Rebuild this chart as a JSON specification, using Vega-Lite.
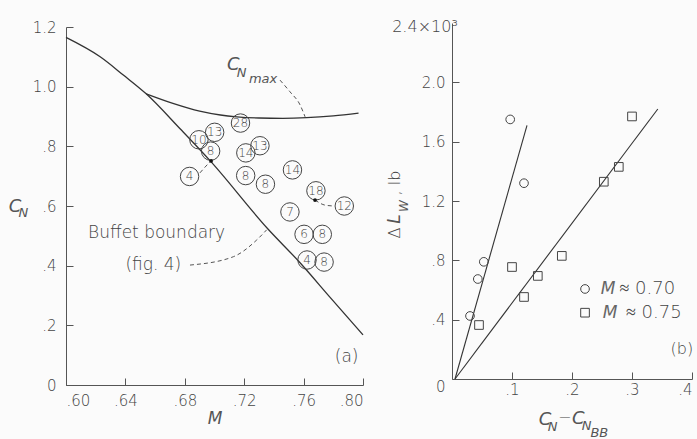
{
  "$schema": "https://vega.github.io/schema/vega-lite/v6.json",
  "autosize": {"type": "none"},
  "padding": {"left": 66, "top": 23, "right": 0, "bottom": 54},
  "width": 631,
  "height": 362,
  "background": "#fbfbfb",
  "config": {
    "view": {"stroke": null},
    "font": "DejaVu Sans",
    "axis": {"grid": false, "domainColor": "#555", "tickColor": "#555", "labelColor": "#444", "labelFont": "DejaVu Sans", "labelFontSize": 15, "labelFontWeight": 200, "tickSize": -7, "domainWidth": 1, "tickWidth": 1, "titleFont": "DejaVu Sans", "titleColor": "#555", "titleFontWeight": 200, "titleFontSize": 17},
    "text": {"color": "#444", "font": "DejaVu Sans", "fontWeight": 200, "baseline": "middle"}
  },
  "datasets": {
    "bound": [
      {"M": 0.600, "CN": 1.165}, {"M": 0.623, "CN": 1.100}, {"M": 0.6386, "CN": 1.039}, {"M": 0.654, "CN": 0.976},
      {"M": 0.677, "CN": 0.858}, {"M": 0.697, "CN": 0.752}, {"M": 0.736, "CN": 0.523}, {"M": 0.757, "CN": 0.413},
      {"M": 0.778, "CN": 0.293}, {"M": 0.800, "CN": 0.168}
    ],
    "cnmax": [
      {"M": 0.654, "CN": 0.976}, {"M": 0.672, "CN": 0.944}, {"M": 0.690, "CN": 0.918}, {"M": 0.704, "CN": 0.905},
      {"M": 0.715, "CN": 0.899}, {"M": 0.730, "CN": 0.895}, {"M": 0.746, "CN": 0.894}, {"M": 0.762, "CN": 0.896},
      {"M": 0.780, "CN": 0.902}, {"M": 0.797, "CN": 0.911}
    ],
    "leaders": [
      {"id": "max", "M": 0.7441, "CN": 1.022}, {"id": "max", "M": 0.7508, "CN": 0.983}, {"id": "max", "M": 0.7576, "CN": 0.939}, {"id": "max", "M": 0.761, "CN": 0.899},
      {"id": "buf", "M": 0.6835, "CN": 0.402}, {"id": "buf", "M": 0.7127, "CN": 0.43}, {"id": "buf", "M": 0.7284, "CN": 0.486}, {"id": "buf", "M": 0.7351, "CN": 0.52},
      {"id": "four", "M": 0.6902, "CN": 0.711}, {"id": "four", "M": 0.6943, "CN": 0.734}, {"id": "four", "M": 0.6976, "CN": 0.751},
      {"id": "ei", "M": 0.7677, "CN": 0.62}, {"id": "ei", "M": 0.7744, "CN": 0.603}, {"id": "ei", "M": 0.7805, "CN": 0.6}
    ],
    "runs": [
      {"n": "28", "M": 0.7175, "CN": 0.878}, {"n": "10", "M": 0.6895, "CN": 0.822}, {"n": "13", "M": 0.7001, "CN": 0.847},
      {"n": "8", "M": 0.6974, "CN": 0.784}, {"n": "4", "M": 0.6832, "CN": 0.699}, {"n": "14", "M": 0.7211, "CN": 0.778},
      {"n": "13", "M": 0.7306, "CN": 0.802}, {"n": "8", "M": 0.721, "CN": 0.702}, {"n": "8", "M": 0.7343, "CN": 0.673},
      {"n": "14", "M": 0.7525, "CN": 0.721}, {"n": "18", "M": 0.7683, "CN": 0.651}, {"n": "12", "M": 0.7874, "CN": 0.6},
      {"n": "7", "M": 0.7508, "CN": 0.58}, {"n": "6", "M": 0.7603, "CN": 0.505}, {"n": "8", "M": 0.7726, "CN": 0.505},
      {"n": "4", "M": 0.7623, "CN": 0.419}, {"n": "8", "M": 0.7738, "CN": 0.412}
    ],
    "dots": [{"M": 0.6977, "CN": 0.751}, {"M": 0.7677, "CN": 0.62}],
    "aReg": [{"t": "Buffet boundary", "M": 0.661, "CN": 0.508}, {"t": "(fig. 4)", "M": 0.6588, "CN": 0.402}, {"t": "(a)", "M": 0.789, "CN": 0.095}],
    "aBig": [{"t": "C", "M": 0.7127, "CN": 1.073}, {"t": "C", "M": 0.5657, "CN": 0.598}],
    "aSub": [{"t": "N", "M": 0.7183, "CN": 1.047}, {"t": "max", "M": 0.7327, "CN": 1.025}, {"t": "N", "M": 0.5713, "CN": 0.576}],
    "pts": [
      {"series": "0.70", "x": 0.030, "y": 0.425}, {"series": "0.70", "x": 0.043, "y": 0.674}, {"series": "0.70", "x": 0.053, "y": 0.79},
      {"series": "0.70", "x": 0.097, "y": 1.75}, {"series": "0.70", "x": 0.120, "y": 1.32},
      {"series": "0.75", "x": 0.045, "y": 0.364}, {"series": "0.75", "x": 0.100, "y": 0.755}, {"series": "0.75", "x": 0.120, "y": 0.553},
      {"series": "0.75", "x": 0.143, "y": 0.695}, {"series": "0.75", "x": 0.183, "y": 0.83}, {"series": "0.75", "x": 0.253, "y": 1.33},
      {"series": "0.75", "x": 0.278, "y": 1.43}, {"series": "0.75", "x": 0.300, "y": 1.77}
    ],
    "fits": [
      {"series": "0.70", "x": 0.005, "y": 0}, {"series": "0.70", "x": 0.125, "y": 1.71},
      {"series": "0.75", "x": 0.005, "y": 0}, {"series": "0.75", "x": 0.343, "y": 1.82}
    ],
    "legendPts": [{"series": "0.70", "x": 0.2217, "y": 0.607}, {"series": "0.75", "x": 0.2217, "y": 0.447}],
    "bReg": [{"t": "(b)", "x": 0.383, "y": 0.202}, {"t": "−", "x": 0.188, "y": -0.265}, {"t": "2.4×10³", "x": -0.045, "y": 2.375}],
    "bRegLeft": [{"t": "≈  0.70", "x": 0.279, "y": 0.607}, {"t": "≈  0.75", "x": 0.29, "y": 0.447}],
    "bBig": [{"t": "C", "x": 0.155, "y": -0.276}, {"t": "C", "x": 0.2105, "y": -0.272}],
    "bM": [{"t": "M", "x": 0.26, "y": 0.607}, {"t": "M", "x": 0.2633, "y": 0.447}],
    "bSub": [{"t": "N", "x": 0.1678, "y": -0.326}, {"t": "N", "x": 0.2245, "y": -0.317}, {"t": "BB", "x": 0.2455, "y": -0.362}],
    "rotReg": [{"t": "Δ", "x": -0.095, "y": 0.984}, {"t": ", lb", "x": -0.095, "y": 1.321}],
    "rotIt": [{"t": "L", "x": -0.095, "y": 1.079}],
    "rotSub": [{"t": "W", "x": -0.08, "y": 1.166}]
  },
  "layer": [
    {
      "layer": [
        {
          "data": {"name": "bound"},
          "mark": {"type": "line", "interpolate": "monotone", "color": "#333", "strokeWidth": 1.3},
          "encoding": {
            "x": {"field": "M", "type": "quantitative", "scale": {"domain": [0.6, 0.8], "range": [0, 297], "nice": false, "zero": false},
                  "axis": {"orient": "bottom", "values": [0.6, 0.64, 0.68, 0.72, 0.76, 0.8], "labelExpr": "substring(format(datum.value,'.2f'),1)", "title": "M", "titleFontStyle": "italic", "labelPadding": 15, "titlePadding": 2}},
            "y": {"field": "CN", "type": "quantitative", "scale": {"domain": [0, 1.2], "range": [362, 4], "nice": false},
                  "axis": {"orient": "left", "values": [0, 0.2, 0.4, 0.6, 0.8, 1.0, 1.2], "labelExpr": "datum.value==0?'0':datum.value>=1?format(datum.value,'.1f'):substring(format(datum.value,'.1f'),1)", "title": null, "labelPadding": 17}}
          }
        },
        {
          "data": {"name": "cnmax"},
          "mark": {"type": "line", "interpolate": "monotone", "color": "#333", "strokeWidth": 1.3},
          "encoding": {"x": {"field": "M", "type": "quantitative"}, "y": {"field": "CN", "type": "quantitative"}}
        },
        {
          "data": {"name": "leaders"},
          "mark": {"type": "line", "interpolate": "monotone", "color": "#555", "strokeWidth": 1, "strokeDash": [4, 3]},
          "encoding": {"x": {"field": "M", "type": "quantitative"}, "y": {"field": "CN", "type": "quantitative"}, "detail": {"field": "id"}}
        },
        {
          "data": {"name": "runs"},
          "mark": {"type": "point", "shape": "circle", "filled": false, "size": 340, "color": "#444", "strokeWidth": 1, "opacity": 1},
          "encoding": {"x": {"field": "M", "type": "quantitative"}, "y": {"field": "CN", "type": "quantitative"}}
        },
        {
          "data": {"name": "runs"},
          "mark": {"type": "text", "fontSize": 12, "align": "center"},
          "encoding": {"x": {"field": "M", "type": "quantitative"}, "y": {"field": "CN", "type": "quantitative"}, "text": {"field": "n"}}
        },
        {
          "data": {"name": "dots"},
          "mark": {"type": "point", "shape": "circle", "filled": true, "size": 14, "color": "#111", "opacity": 1},
          "encoding": {"x": {"field": "M", "type": "quantitative"}, "y": {"field": "CN", "type": "quantitative"}}
        },
        {
          "data": {"name": "aReg"},
          "mark": {"type": "text", "fontSize": 17, "align": "center"},
          "encoding": {"x": {"field": "M", "type": "quantitative"}, "y": {"field": "CN", "type": "quantitative"}, "text": {"field": "t"}}
        },
        {
          "data": {"name": "aBig"},
          "mark": {"type": "text", "fontSize": 18, "fontStyle": "italic", "align": "center", "color": "#555"},
          "encoding": {"x": {"field": "M", "type": "quantitative"}, "y": {"field": "CN", "type": "quantitative"}, "text": {"field": "t"}}
        },
        {
          "data": {"name": "aSub"},
          "mark": {"type": "text", "fontSize": 13, "fontStyle": "italic", "align": "center", "color": "#555"},
          "encoding": {"x": {"field": "M", "type": "quantitative"}, "y": {"field": "CN", "type": "quantitative"}, "text": {"field": "t"}}
        }
      ]
    },
    {
      "layer": [
        {
          "data": {"name": "fits"},
          "mark": {"type": "line", "color": "#333", "strokeWidth": 1.1},
          "encoding": {
            "x": {"field": "x", "type": "quantitative", "scale": {"domain": [0, 0.4], "range": [386, 626], "nice": false},
                  "axis": {"orient": "bottom", "offset": -6, "values": [0.1, 0.2, 0.3, 0.4], "labelExpr": "substring(format(datum.value,'.1f'),1)", "title": null, "labelPadding": 10}},
            "y": {"field": "y", "type": "quantitative", "scale": {"domain": [0, 2.4], "range": [356, 0], "nice": false},
                  "axis": {"orient": "left", "offset": -386, "values": [0, 0.4, 0.8, 1.2, 1.6, 2.0], "labelExpr": "datum.value==0?'0':datum.value>=1?format(datum.value,'.1f'):substring(format(datum.value,'.1f'),1)", "title": null, "labelPadding": 14,
                           "labelBaseline": {"condition": {"test": "datum.value==0", "value": "top"}, "value": "middle"}}},
            "detail": {"field": "series"}
          }
        },
        {
          "data": {"name": "pts"},
          "mark": {"type": "point", "filled": false, "size": 75, "color": "#444", "strokeWidth": 1, "opacity": 1},
          "encoding": {
            "x": {"field": "x", "type": "quantitative"}, "y": {"field": "y", "type": "quantitative"},
            "shape": {"field": "series", "type": "nominal", "scale": {"domain": ["0.70", "0.75"], "range": ["circle", "square"]}, "legend": null}
          }
        },
        {
          "data": {"name": "legendPts"},
          "mark": {"type": "point", "filled": false, "size": 75, "color": "#444", "strokeWidth": 1, "opacity": 1},
          "encoding": {
            "x": {"field": "x", "type": "quantitative"}, "y": {"field": "y", "type": "quantitative"},
            "shape": {"field": "series", "type": "nominal", "legend": null}
          }
        },
        {
          "data": {"name": "bReg"},
          "mark": {"type": "text", "fontSize": 16, "align": "center"},
          "encoding": {"x": {"field": "x", "type": "quantitative"}, "y": {"field": "y", "type": "quantitative"}, "text": {"field": "t"}}
        },
        {
          "data": {"name": "bRegLeft"},
          "mark": {"type": "text", "fontSize": 18, "align": "left"},
          "encoding": {"x": {"field": "x", "type": "quantitative"}, "y": {"field": "y", "type": "quantitative"}, "text": {"field": "t"}}
        },
        {
          "data": {"name": "bBig"},
          "mark": {"type": "text", "fontSize": 18, "fontStyle": "italic", "align": "center", "color": "#555"},
          "encoding": {"x": {"field": "x", "type": "quantitative"}, "y": {"field": "y", "type": "quantitative"}, "text": {"field": "t"}}
        },
        {
          "data": {"name": "bM"},
          "mark": {"type": "text", "fontSize": 17, "fontStyle": "italic", "align": "center", "color": "#666"},
          "encoding": {"x": {"field": "x", "type": "quantitative"}, "y": {"field": "y", "type": "quantitative"}, "text": {"field": "t"}}
        },
        {
          "data": {"name": "bSub"},
          "mark": {"type": "text", "fontSize": 13, "fontStyle": "italic", "align": "center", "color": "#555"},
          "encoding": {"x": {"field": "x", "type": "quantitative"}, "y": {"field": "y", "type": "quantitative"}, "text": {"field": "t"}}
        },
        {
          "data": {"name": "rotReg"},
          "mark": {"type": "text", "fontSize": 16, "align": "center", "angle": 270},
          "encoding": {"x": {"field": "x", "type": "quantitative"}, "y": {"field": "y", "type": "quantitative"}, "text": {"field": "t"}}
        },
        {
          "data": {"name": "rotIt"},
          "mark": {"type": "text", "fontSize": 17, "fontStyle": "italic", "align": "center", "angle": 270, "color": "#555"},
          "encoding": {"x": {"field": "x", "type": "quantitative"}, "y": {"field": "y", "type": "quantitative"}, "text": {"field": "t"}}
        },
        {
          "data": {"name": "rotSub"},
          "mark": {"type": "text", "fontSize": 12, "fontStyle": "italic", "align": "center", "angle": 270, "color": "#555"},
          "encoding": {"x": {"field": "x", "type": "quantitative"}, "y": {"field": "y", "type": "quantitative"}, "text": {"field": "t"}}
        }
      ]
    }
  ],
  "resolve": {"scale": {"x": "independent", "y": "independent"}, "axis": {"x": "independent", "y": "independent"}}
}
